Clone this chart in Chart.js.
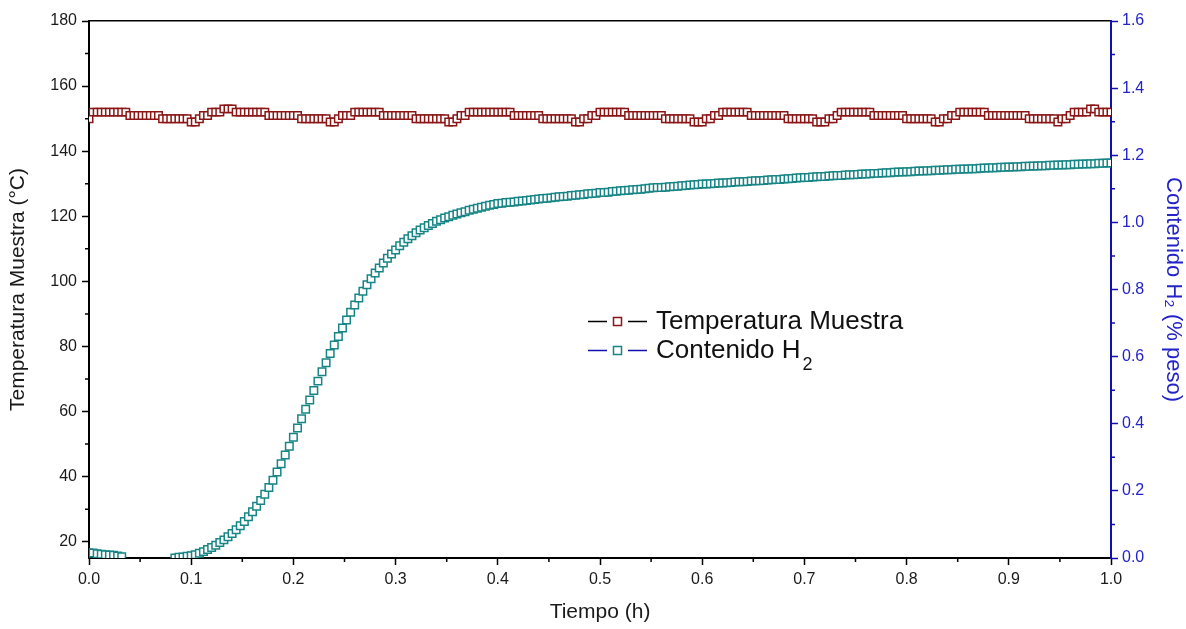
<!DOCTYPE html>
<html>
<head>
<meta charset="utf-8">
<script src="https://cdn.jsdelivr.net/npm/chart.js@4.4.1/dist/chart.umd.min.js"></script>
<style>
  body { margin: 0; background: #fff; }
  canvas { display: block; }
</style>
</head>
<body>
<canvas id="grafico" width="1186" height="629"></canvas>
<script>
// tiempo (h), un punto cada 0.004 h
const tiempo = [
  0.000, 0.004, 0.008, 0.012, 0.016, 0.020, 0.024, 0.028, 0.032, 0.036,
  0.040, 0.044, 0.048, 0.052, 0.056, 0.060, 0.064, 0.068, 0.072, 0.076,
  0.080, 0.084, 0.088, 0.092, 0.096, 0.100, 0.104, 0.108, 0.112, 0.116,
  0.120, 0.124, 0.128, 0.132, 0.136, 0.140, 0.144, 0.148, 0.152, 0.156,
  0.160, 0.164, 0.168, 0.172, 0.176, 0.180, 0.184, 0.188, 0.192, 0.196,
  0.200, 0.204, 0.208, 0.212, 0.216, 0.220, 0.224, 0.228, 0.232, 0.236,
  0.240, 0.244, 0.248, 0.252, 0.256, 0.260, 0.264, 0.268, 0.272, 0.276,
  0.280, 0.284, 0.288, 0.292, 0.296, 0.300, 0.304, 0.308, 0.312, 0.316,
  0.320, 0.324, 0.328, 0.332, 0.336, 0.340, 0.344, 0.348, 0.352, 0.356,
  0.360, 0.364, 0.368, 0.372, 0.376, 0.380, 0.384, 0.388, 0.392, 0.396,
  0.400, 0.404, 0.408, 0.412, 0.416, 0.420, 0.424, 0.428, 0.432, 0.436,
  0.440, 0.444, 0.448, 0.452, 0.456, 0.460, 0.464, 0.468, 0.472, 0.476,
  0.480, 0.484, 0.488, 0.492, 0.496, 0.500, 0.504, 0.508, 0.512, 0.516,
  0.520, 0.524, 0.528, 0.532, 0.536, 0.540, 0.544, 0.548, 0.552, 0.556,
  0.560, 0.564, 0.568, 0.572, 0.576, 0.580, 0.584, 0.588, 0.592, 0.596,
  0.600, 0.604, 0.608, 0.612, 0.616, 0.620, 0.624, 0.628, 0.632, 0.636,
  0.640, 0.644, 0.648, 0.652, 0.656, 0.660, 0.664, 0.668, 0.672, 0.676,
  0.680, 0.684, 0.688, 0.692, 0.696, 0.700, 0.704, 0.708, 0.712, 0.716,
  0.720, 0.724, 0.728, 0.732, 0.736, 0.740, 0.744, 0.748, 0.752, 0.756,
  0.760, 0.764, 0.768, 0.772, 0.776, 0.780, 0.784, 0.788, 0.792, 0.796,
  0.800, 0.804, 0.808, 0.812, 0.816, 0.820, 0.824, 0.828, 0.832, 0.836,
  0.840, 0.844, 0.848, 0.852, 0.856, 0.860, 0.864, 0.868, 0.872, 0.876,
  0.880, 0.884, 0.888, 0.892, 0.896, 0.900, 0.904, 0.908, 0.912, 0.916,
  0.920, 0.924, 0.928, 0.932, 0.936, 0.940, 0.944, 0.948, 0.952, 0.956,
  0.960, 0.964, 0.968, 0.972, 0.976, 0.980, 0.984, 0.988, 0.992, 0.996,
  1.000
];

// temperatura de la muestra (°C)
const temperatura = [
  150, 152, 152, 152, 152, 152, 152, 152, 152, 152,
  151, 151, 151, 151, 151, 151, 151, 151, 150, 150,
  150, 150, 150, 150, 150, 149, 149, 150, 151, 151,
  152, 152, 152, 153, 153, 153, 152, 152, 152, 152,
  152, 152, 152, 152, 151, 151, 151, 151, 151, 151,
  151, 151, 150, 150, 150, 150, 150, 150, 150, 149,
  149, 150, 151, 151, 151, 152, 152, 152, 152, 152,
  152, 152, 151, 151, 151, 151, 151, 151, 151, 151,
  150, 150, 150, 150, 150, 150, 150, 150, 149, 149,
  150, 151, 151, 152, 152, 152, 152, 152, 152, 152,
  152, 152, 152, 152, 151, 151, 151, 151, 151, 151,
  151, 150, 150, 150, 150, 150, 150, 150, 150, 149,
  149, 150, 150, 151, 151, 152, 152, 152, 152, 152,
  152, 152, 151, 151, 151, 151, 151, 151, 151, 151,
  151, 150, 150, 150, 150, 150, 150, 150, 149, 149,
  149, 150, 150, 151, 151, 152, 152, 152, 152, 152,
  152, 152, 151, 151, 151, 151, 151, 151, 151, 151,
  151, 150, 150, 150, 150, 150, 150, 150, 149, 149,
  149, 150, 150, 151, 152, 152, 152, 152, 152, 152,
  152, 152, 151, 151, 151, 151, 151, 151, 151, 151,
  150, 150, 150, 150, 150, 150, 150, 149, 149, 150,
  150, 151, 151, 152, 152, 152, 152, 152, 152, 152,
  151, 151, 151, 151, 151, 151, 151, 151, 151, 151,
  150, 150, 150, 150, 150, 150, 150, 149, 150, 150,
  151, 152, 152, 152, 152, 153, 153, 152, 152, 152,
  152
];

// contenido de H2 (% peso); los negativos quedan bajo el eje
const contenidoH2 = [
  0.016, 0.015, 0.013, 0.011, 0.010, 0.009, 0.008, 0.006, 0.004, -0.03,
  -0.03, -0.03, -0.03, -0.03, -0.03, -0.03, -0.03, -0.03, -0.03, -0.03,
  -0.03, 0.000, 0.002, 0.003, 0.005, 0.007, 0.010, 0.014, 0.019, 0.025,
  0.031, 0.038, 0.046, 0.054, 0.063, 0.073, 0.084, 0.096, 0.109, 0.123,
  0.138, 0.154, 0.171, 0.190, 0.210, 0.232, 0.256, 0.281, 0.307, 0.333,
  0.360, 0.387, 0.415, 0.443, 0.471, 0.499, 0.527, 0.555, 0.582, 0.609,
  0.635, 0.660, 0.685, 0.709, 0.732, 0.754, 0.775, 0.795, 0.814, 0.832,
  0.849, 0.864, 0.879, 0.893, 0.906, 0.918, 0.930, 0.941, 0.951, 0.960,
  0.969, 0.977, 0.984, 0.991, 0.997, 1.003, 1.008, 1.013, 1.017, 1.021,
  1.025, 1.029, 1.032, 1.036, 1.039, 1.042, 1.045, 1.048, 1.051, 1.053,
  1.056, 1.057, 1.059, 1.060, 1.061, 1.063, 1.064, 1.065, 1.067, 1.068,
  1.070, 1.071, 1.072, 1.073, 1.075, 1.076, 1.077, 1.078, 1.080, 1.081,
  1.082, 1.083, 1.085, 1.086, 1.087, 1.089, 1.089, 1.090, 1.092, 1.093,
  1.094, 1.095, 1.096, 1.097, 1.098, 1.099, 1.100, 1.102, 1.103, 1.104,
  1.104, 1.105, 1.106, 1.107, 1.108, 1.109, 1.110, 1.111, 1.112, 1.113,
  1.114, 1.114, 1.115, 1.116, 1.117, 1.117, 1.118, 1.119, 1.120, 1.121,
  1.121, 1.122, 1.123, 1.124, 1.124, 1.125, 1.126, 1.127, 1.128, 1.128,
  1.129, 1.130, 1.131, 1.132, 1.133, 1.134, 1.134, 1.135, 1.136, 1.137,
  1.137, 1.138, 1.139, 1.140, 1.140, 1.141, 1.142, 1.142, 1.143, 1.144,
  1.144, 1.145, 1.146, 1.146, 1.147, 1.148, 1.148, 1.149, 1.150, 1.150,
  1.151, 1.151, 1.152, 1.153, 1.153, 1.154, 1.154, 1.155, 1.155, 1.156,
  1.157, 1.157, 1.158, 1.158, 1.159, 1.159, 1.160, 1.160, 1.161, 1.162,
  1.162, 1.163, 1.163, 1.164, 1.164, 1.165, 1.165, 1.166, 1.166, 1.167,
  1.167, 1.168, 1.168, 1.169, 1.169, 1.170, 1.170, 1.171, 1.171, 1.172,
  1.172, 1.173, 1.173, 1.174, 1.174, 1.175, 1.175, 1.176, 1.176, 1.177,
  1.177
];

// marcas de los ejes
const ticksTemp = [20, 40, 60, 80, 100, 120, 140, 160, 180];
const menoresX = [0.05, 0.15, 0.25, 0.35, 0.45, 0.55, 0.65, 0.75, 0.85, 0.95];
const menoresTemp = [30, 50, 70, 90, 110, 130, 150, 170];
const menoresH2 = [0.1, 0.3, 0.5, 0.7, 0.9, 1.1, 1.3, 1.5];

const rojo = '#8b1414';
const verde = '#178585';
const azul = '#1010b0';
const azulTexto = '#2323c8';

Chart.defaults.font.family = '"Liberation Sans", Arial, sans-serif';

const marcasMenores = {
  id: 'marcasMenores',
  afterDraw(chart) {
    const { ctx, chartArea: a, scales } = chart;
    ctx.save();
    ctx.lineWidth = 1.5;
    ctx.strokeStyle = '#000';
    ctx.beginPath();
    menoresX.forEach(v => {
      const px = scales.x.getPixelForValue(v);
      ctx.moveTo(px, a.bottom);
      ctx.lineTo(px, a.bottom + 4);
    });
    menoresTemp.forEach(v => {
      const py = scales.y.getPixelForValue(v);
      ctx.moveTo(a.left, py);
      ctx.lineTo(a.left - 4, py);
    });
    ctx.stroke();
    ctx.strokeStyle = azul;
    ctx.beginPath();
    menoresH2.forEach(v => {
      const py = scales.y2.getPixelForValue(v);
      ctx.moveTo(a.right, py);
      ctx.lineTo(a.right + 4, py);
    });
    ctx.stroke();
    ctx.restore();
  }
};

// leyenda dibujada a mano: linea - cuadro - linea y texto con subindice
const leyenda = {
  id: 'leyenda',
  afterDraw(chart) {
    const ctx = chart.ctx;
    const filas = [
      { y: 321.5, linea: '#000', marca: rojo, texto: 'Temperatura Muestra', sub: '' },
      { y: 350.5, linea: azul, marca: verde, texto: 'Contenido H', sub: '2' }
    ];
    ctx.save();
    filas.forEach(f => {
      ctx.strokeStyle = f.linea;
      ctx.lineWidth = 1.5;
      ctx.beginPath();
      ctx.moveTo(588, f.y); ctx.lineTo(607, f.y);
      ctx.moveTo(628, f.y); ctx.lineTo(647, f.y);
      ctx.stroke();
      ctx.fillStyle = '#fff';
      ctx.fillRect(613.5, f.y - 4, 8, 8);
      ctx.strokeStyle = f.marca;
      ctx.lineWidth = 1.5;
      ctx.strokeRect(613.5, f.y - 4, 8, 8);
      ctx.fillStyle = '#111';
      ctx.textBaseline = 'middle';
      ctx.font = '26px "Liberation Sans", Arial, sans-serif';
      ctx.fillText(f.texto, 656, f.y);
      if (f.sub) {
        const w = ctx.measureText(f.texto).width;
        ctx.font = '18px "Liberation Sans", Arial, sans-serif';
        ctx.fillText(f.sub, 656 + w + 2, f.y + 15);
      }
    });
    ctx.restore();
  }
};

const config = {
  type: 'line',
  data: {
    datasets: [
      {
        label: 'Temperatura Muestra',
        data: tiempo.map((t, i) => ({ x: t, y: temperatura[i] })),
        xAxisID: 'x',
        yAxisID: 'y',
        showLine: false,
        pointStyle: 'rect',
        pointRadius: 5.3,
        pointBorderWidth: 1.5,
        pointBorderColor: rojo,
        pointBackgroundColor: '#fff',
        borderColor: '#000'
      },
      {
        label: 'Contenido H₂',
        data: tiempo.map((t, i) => ({ x: t, y: contenidoH2[i] })),
        xAxisID: 'x',
        yAxisID: 'y2',
        showLine: false,
        pointStyle: 'rect',
        pointRadius: 5.3,
        pointBorderWidth: 1.5,
        pointBorderColor: verde,
        pointBackgroundColor: '#fff',
        borderColor: azul
      }
    ]
  },
  options: {
    responsive: false,
    animation: false,
    events: [],
    layout: { padding: { top: 21, left: 0, right: 0, bottom: 0 } },
    plugins: {
      legend: { display: false },
      tooltip: { enabled: false }
    },
    scales: {
      x: {
        type: 'linear',
        position: 'bottom',
        min: 0,
        max: 1,
        afterFit: s => { s.height = 71; },
        ticks: {
          stepSize: 0.1,
          color: '#1a1a1a',
          font: { size: 16 },
          padding: 5,
          callback: v => v.toFixed(1)
        },
        grid: { drawOnChartArea: false, tickLength: 7, tickWidth: 1.5, tickColor: '#000' },
        border: { display: true, color: '#000', width: 2 },
        title: {
          display: true,
          text: 'Tiempo (h)',
          color: '#1a1a1a',
          font: { size: 21 },
          padding: { top: 0, bottom: 4 }
        }
      },
      xTop: {
        type: 'linear',
        position: 'top',
        min: 0,
        max: 1,
        afterFit: s => { s.height = 0; },
        ticks: { display: false },
        grid: { display: false },
        border: { display: true, color: '#000', width: 1.5 }
      },
      y: {
        type: 'linear',
        position: 'left',
        min: 15,
        max: 180,
        afterFit: s => { s.width = 89; },
        afterBuildTicks: s => { s.ticks = ticksTemp.map(v => ({ value: v })); },
        ticks: { color: '#1a1a1a', font: { size: 16 }, padding: 5 },
        grid: { drawOnChartArea: false, tickLength: 7, tickWidth: 1.5, tickColor: '#000' },
        border: { display: true, color: '#000', width: 2 },
        title: {
          display: true,
          text: 'Temperatura Muestra (°C)',
          color: '#1a1a1a',
          font: { size: 21 },
          padding: { top: 6, bottom: 0 }
        }
      },
      y2: {
        type: 'linear',
        position: 'right',
        min: 0,
        max: 1.6,
        afterFit: s => { s.width = 75; },
        ticks: {
          stepSize: 0.2,
          color: azulTexto,
          font: { size: 16 },
          padding: 4,
          callback: v => v.toFixed(1)
        },
        grid: { drawOnChartArea: false, tickLength: 7, tickWidth: 1.5, tickColor: azul },
        border: { display: true, color: azul, width: 2 },
        title: {
          display: true,
          text: 'Contenido H₂ (% peso)',
          color: azulTexto,
          font: { size: 22 },
          padding: { top: 0, bottom: 2 }
        }
      }
    }
  },
  plugins: [marcasMenores, leyenda]
};

const grafico = document.getElementById('grafico');
new Chart(grafico, config);
</script>
</body>
</html>
